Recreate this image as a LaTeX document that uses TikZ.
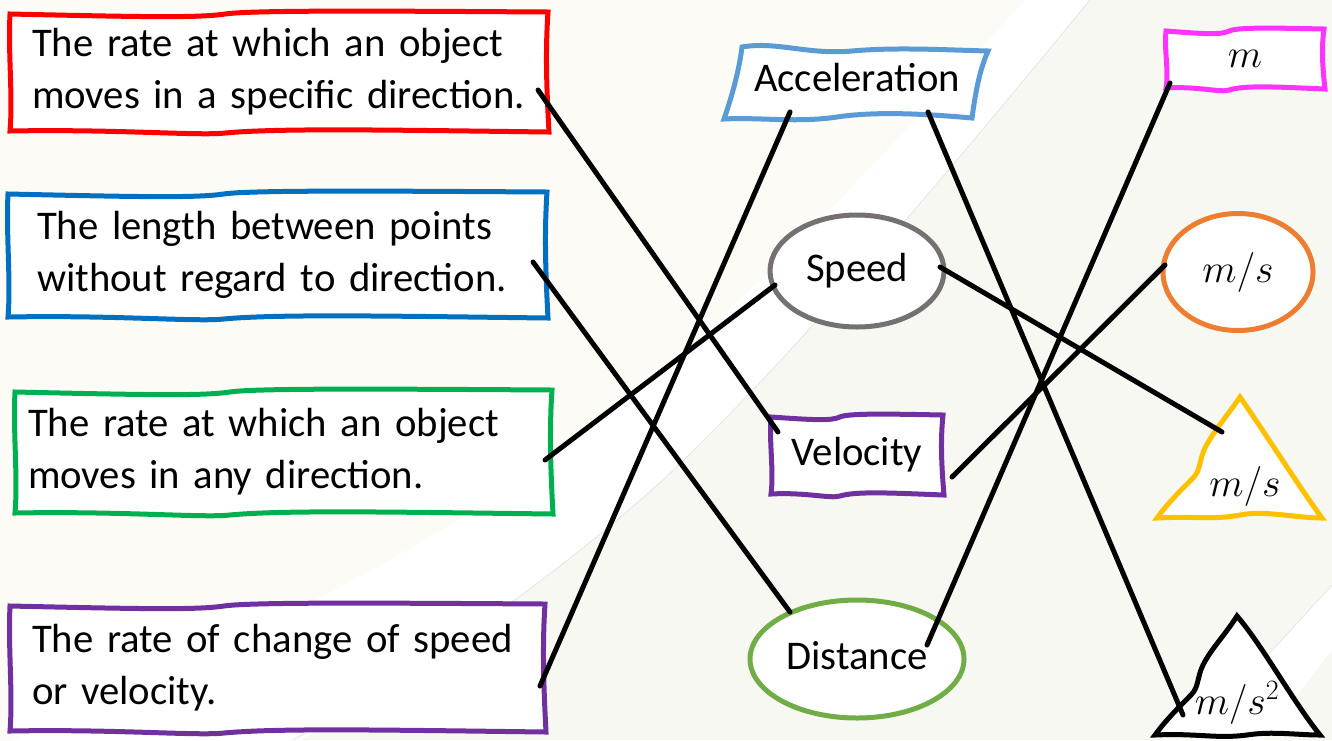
\RequirePackage{fix-cm}
\documentclass[tikz,border=0pt]{standalone}
\usepackage{fontspec}
\setmainfont{Carlito}
\usetikzlibrary{calc,shapes.geometric}
\pgfdeclarelayer{back}
\pgfdeclarelayer{mid}
\pgfsetlayers{back,mid,main}
\definecolor{bgA}{HTML}{F8F8F3}
\definecolor{bgB}{HTML}{FDFBF5}
\definecolor{cRed}{HTML}{FF0000}
\definecolor{cBlue}{HTML}{0070C0}
\definecolor{cGreen}{HTML}{00B050}
\definecolor{cPurple}{HTML}{7030A0}
\definecolor{cAcc}{HTML}{5B9BD5}
\definecolor{cGray}{HTML}{767171}
\definecolor{cDist}{HTML}{70AD47}
\definecolor{cMag}{HTML}{FF33FF}
\definecolor{cOrange}{HTML}{ED7D31}
\definecolor{cYellow}{HTML}{FFC000}
\tikzset{
  lbl/.style={font=\fontsize{40.7}{52}\selectfont, inner sep=0pt, text height=29pt, text depth=9pt},
  lbox/.style={font=\fontsize{40.7}{52}\selectfont, inner sep=0pt, align=left},
  unit/.style={font=\fontsize{40}{48}\selectfont, inner sep=0pt},
  link/.style={line width=5pt, line cap=round, black},
  oval/.style={ellipse, draw, fill=white, line width=5pt, inner sep=0pt},
  outl/.style={line width=5pt, fill=white},
}
% wavy rectangle round a node: #1 node, #2 colour, #3 half width, #4 half height
\newcommand\wrect[4]{%
  \begin{scope}[shift={(#1.center)}]
    \draw[outl, draw=#2]
      (-#3,-#4+2) .. controls (-0.5*#3,-#4+5) and (-0.3*#3,-#4+6) .. (-0.2*#3,-#4+2)
      .. controls (-0.1*#3,-#4-2) and (0.4*#3,-#4-1) .. (#3,-#4)
      .. controls (#3-3,-0.3*#4) and (#3-1,0.4*#4) .. (#3+1,#4)
      .. controls (0.4*#3,#4-2) and (0,#4-4) .. (-0.2*#3,#4+1)
      .. controls (-0.3*#3,#4+4) and (-0.6*#3,#4-3) .. (-#3,#4-1)
      .. controls (-#3+3,0.4*#4) and (-#3-2,-0.3*#4) .. cycle;
  \end{scope}}
\begin{document}
\begin{tikzpicture}[x=1pt,y=-1pt]
\useasboundingbox (0,0) rectangle (1332,740);
% background
\begin{pgfonlayer}{back}
  \fill[bgA] (0,0) rectangle (1332,740);
  \fill[bgB] (0,0) -- (1025,0) .. controls (870,170) and (700,360) .. (520,480)
     .. controls (380,575) and (200,660) .. (0,745) -- cycle;
  \fill[white] (1025,0) .. controls (870,170) and (700,360) .. (520,480)
     .. controls (380,575) and (200,660) .. (0,745) -- (293,745)
     .. controls (420,670) and (540,590) .. (663,480)
     .. controls (800,350) and (950,170) .. (1090,0) -- cycle;
  \draw[black!12, line width=0.6pt] (293,740) .. controls (420,670) and (540,590) .. (663,480)
     .. controls (800,350) and (950,170) .. (1090,0);
  \fill[white] (1332,585) -- (1190,740) -- (1262,740) -- (1332,650) -- cycle;
  \draw[black!12, line width=0.6pt] (1332,585) -- (1190,740);
\end{pgfonlayer}

% left descriptions
\node[lbox, text width=494pt, inner xsep=22pt, minimum height=120pt] (red) at (279,72)
  {\mbox{The rate at which an object}\\\mbox{moves in a specific direction.}};
\node[lbox, text width=481pt, inner xsep=29pt, minimum height=126pt] (blue) at (277.5,255)
  {\mbox{The length between points}\\\mbox{without regard to direction.}};
\node[lbox, text width=511pt, inner xsep=13pt, minimum height=125pt] (green) at (283.5,452)
  {\mbox{The rate at which an object}\\\mbox{moves in any direction.}};
\node[lbox, text width=491pt, inner xsep=22pt, minimum height=128pt] (purple) at (277.5,668)
  {\mbox{The rate of change of speed}\\\mbox{or velocity.}};

% middle terms
\node[lbl, minimum width=240pt, minimum height=70pt] (acc) at (857,81) {Acceleration};
\node[oval, draw=cGray, minimum width=174pt, minimum height=112pt, lbl] (speed) at (857,271) {Speed};
\node[lbl, minimum width=172pt, minimum height=80pt] (vel) at (857,455) {Velocity};
\node[oval, draw=cDist, minimum width=214pt, minimum height=118pt, lbl] (dist) at (857,659) {Distance};

% units
\node[unit, minimum width=158pt, minimum height=60pt] (mbox) at (1245,59) {$m$};
\node[oval, draw=cOrange, minimum width=150pt, minimum height=117pt, unit] (ms) at (1238,272) {$m/s$};
\node[unit] (tri1) at (1245,486) {$m/s$};
\node[unit] (tri2) at (1237,703) {$m/s^2$};

% outlines
\begin{pgfonlayer}{mid}
  \wrect{red}{cRed}{269}{60}
  \wrect{blue}{cBlue}{269.5}{63}
  \wrect{green}{cGreen}{268.5}{62}
  \wrect{purple}{cPurple}{267.5}{64}
  \wrect{vel}{cPurple}{86}{40}
  \wrect{mbox}{cMag}{79}{30}
  \begin{scope}[shift={(acc.center)}]
    \draw[outl, draw=cAcc]
      (-115,-34) .. controls (-80,-40) and (-50,-26) .. (-5,-30)
      .. controls (40,-34) and (90,-31) .. (131,-30)
      .. controls (122,-10) and (118,15) .. (115,37)
      .. controls (70,33) and (20,30) .. (-20,36)
      .. controls (-60,42) and (-100,36) .. (-133,38)
      .. controls (-125,15) and (-118,-10) .. cycle;
  \end{scope}
  \begin{scope}[shift={(tri1.center)}]
    \draw[outl, draw=cYellow]
      (-5,-89) .. controls (-18,-70) and (-32,-54) .. (-40,-38)
      .. controls (-46,-26) and (-44,-16) .. (-52,-8)
      .. controls (-64,4) and (-78,18) .. (-88,32)
      .. controls (-50,30) and (-30,34) .. (-5,29)
      .. controls (20,24) and (50,32) .. (77,32)
      .. controls (55,2) and (20,-53) .. cycle;
  \end{scope}
  \begin{scope}[shift={(tri2.center)}]
    \draw[outl, draw=black]
      (0,-87) .. controls (-12,-68) and (-26,-54) .. (-34,-38)
      .. controls (-40,-26) and (-38,-16) .. (-46,-8)
      .. controls (-58,4) and (-72,18) .. (-82,32)
      .. controls (-40,30) and (-20,36) .. (10,32)
      .. controls (35,28) and (60,32) .. (83,32)
      .. controls (55,-3) and (25,-58) .. cycle;
  \end{scope}
\end{pgfonlayer}

% connectors
\draw[link] ($(red.center)+(259,18)$) -- ($(vel.center)+(-79,-23)$);
\draw[link] ($(blue.center)+(255.5,7)$) -- ($(dist.center)+(-67,-47)$);
\draw[link] ($(green.center)+(261.5,8)$) -- ($(speed.center)+(-82,14)$);
\draw[link] ($(purple.center)+(262.5,18)$) -- ($(acc.center)+(-67,31)$);
\draw[link] ($(acc.center)+(71,31)$) -- ($(tri2.center)+(-54,12)$);
\draw[link] ($(speed.center)+(83,-4)$) -- ($(tri1.center)+(-23,-54)$);
\draw[link] ($(vel.center)+(95,22)$) -- ($(ms.center)+(-73,-7)$);
\draw[link] ($(dist.center)+(70,-14)$) -- ($(mbox.center)+(-75,24)$);
\end{tikzpicture}
\end{document}
